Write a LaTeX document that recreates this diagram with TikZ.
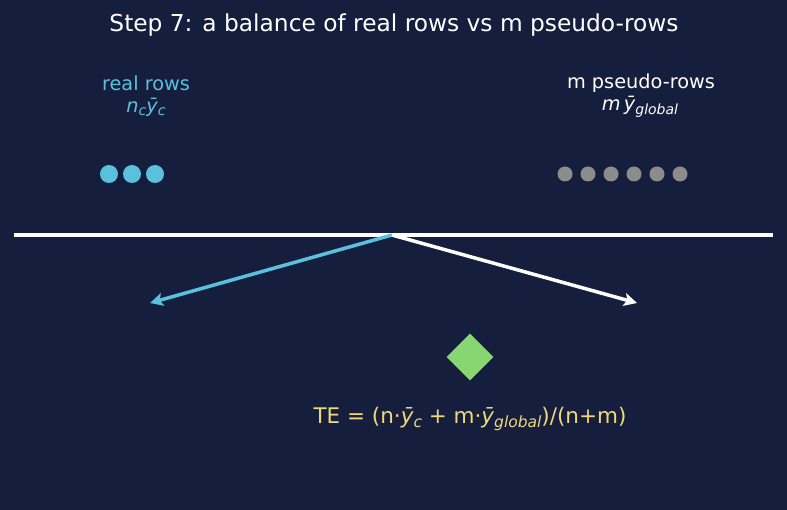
\documentclass[tikz,border=0pt]{standalone}
\usepackage{fontspec}
\setmainfont{DejaVu Sans}
\usetikzlibrary{arrows.meta,shapes.geometric}
\definecolor{bg}{HTML}{151F3D}
\definecolor{cyanc}{HTML}{5BC0DE}
\definecolor{grayc}{HTML}{8C8C8C}
\definecolor{greenc}{HTML}{88D672}
\definecolor{yellowc}{HTML}{F0D77A}
\newcommand{\sbx}[2][14]{\raisebox{-0.35ex}{\fontsize{#1}{#1}\selectfont\itshape #2}}
\tikzset{
  title/.style={text=white,font=\fontsize{23.3}{26}\selectfont},
  lbl/.style={font=\fontsize{19.3}{22}\selectfont,align=center,inner sep=0},
  realdot/.style={circle,fill=cyanc,minimum size=18pt,inner sep=0},
  pseudodot/.style={circle,fill=grayc,minimum size=15pt,inner sep=0},
  beam/.style={white,line width=4pt},
  arr/.style={line width=3.5pt,-{Stealth[length=13pt,width=13pt,inset=3pt]}},
}
\begin{document}
\begin{tikzpicture}[x=1pt,y=-1pt]
\fill[bg] (0,0) rectangle (787,510);
\useasboundingbox (0,0) rectangle (787,510);
\node[title] (t) at (394,25) {Step 7: a balance of real rows vs m pseudo-rows};
\node[lbl,text=cyanc] (rl) at (146,83) {real rows};
\node[lbl,text=cyanc] (rm) at (146,107) {\itshape n\sbx{c}ȳ\sbx{c}};
\node[lbl,text=white] (pl) at (641,83) {m pseudo-rows};
\node[lbl,text=white] (pm) at (640,107) {\itshape m\,ȳ\sbx{global}};
\foreach \i/\x in {1/109,2/132,3/155} \node[realdot] (r\i) at (\x,174) {};
\foreach \i/\x in {1/565,2/588,3/611,4/634,5/657,6/680} \node[pseudodot] (p\i) at (\x,174) {};
\coordinate (bl) at (14,235);
\coordinate (br) at (773,235);
\coordinate (piv) at (392,235);
\coordinate (la) at (150,303);
\coordinate (ra) at (637,303);
\draw[beam] (bl) -- (br);
\draw[arr,cyanc] (piv) -- (la);
\draw[arr,white] (piv) -- (ra);
\node[diamond,fill=greenc,minimum width=47pt,minimum height=47pt,inner sep=0] (d) at (470,357) {};
\node[lbl,text=yellowc,font=\fontsize{21.5}{24}\selectfont] (f) at (470,419) {TE = (n·{\itshape ȳ\sbx[15.5]{c}} + m·{\itshape ȳ\sbx[15.5]{global}})/(n+m)};
\end{tikzpicture}
\end{document}
